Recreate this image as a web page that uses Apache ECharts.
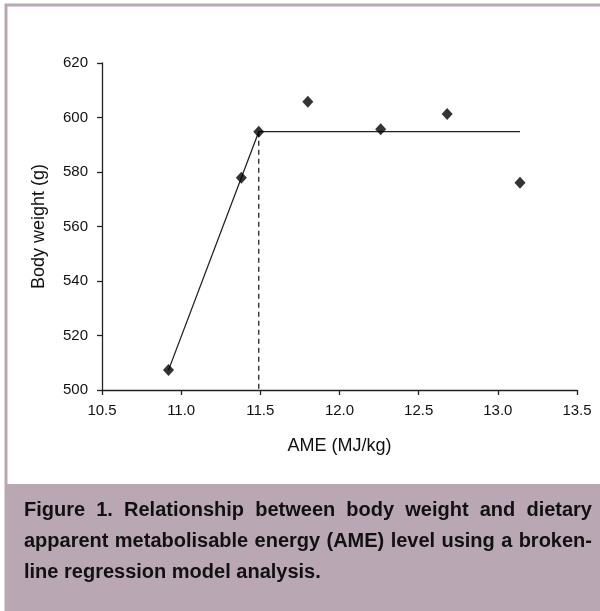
<!DOCTYPE html>
<html>
<head>
<meta charset="utf-8">
<script src="https://cdn.jsdelivr.net/npm/echarts@6/dist/echarts.min.js"></script>
<style>
  html, body { margin: 0; padding: 0; background: #ffffff; }
  #wrap { position: relative; width: 600px; height: 611px; overflow: hidden; }
  #chart { position: absolute; left: 0; top: 0; width: 600px; height: 611px; }
  #caption {
    position: absolute; left: 24px; top: 494px; width: 568px;
    font-family: "Liberation Sans", Arial, sans-serif; font-weight: bold;
    font-size: 20px; line-height: 31px; color: #111111;
    text-align: justify; text-align-last: left;
  }
</style>
</head>
<body>
<div id="wrap">
  <div id="chart"></div>
  <div id="caption">Figure 1. Relationship between body weight and dietary apparent metabolisable energy (AME) level using a broken-line regression model analysis.</div>
</div>
<script>
// Observed data points
const ameValues   = [10.92, 11.38, 11.49, 11.80, 12.26, 12.68, 13.14];
const bodyWeights = [507.3, 577.9, 594.8, 605.8, 595.7, 601.3, 576.1];

// Broken-line regression fit
const fitX = [10.92, 11.49, 13.14];
const fitY = [507.3, 594.8, 594.8];

// Breakpoint (dashed drop line)
const breakX = [11.49, 11.49];
const breakY = [594.8, 500];

// Axis settings
const xTicks = [10.5, 11.0, 11.5, 12.0, 12.5, 13.0, 13.5];
const yTicks = [500, 520, 540, 560, 580, 600, 620];

const xAxisTitle = 'AME (MJ/kg)';
const yAxisTitle = 'Body weight (g)';

const zip = (xs, ys) => xs.map((x, i) => [x, ys[i]]);

const chart = echarts.init(document.getElementById('chart'), null, { renderer: 'canvas' });
const mauve = '#b9a8b4';
const axisColor = '#222222';
const fontFam = '"Liberation Sans", Arial, sans-serif';

chart.setOption({
  backgroundColor: '#ffffff',
  animation: false,
  graphic: [
    { type: 'rect', z: -10, shape: { x: 6, y: 5, width: 620, height: 640 },
      style: { fill: null, stroke: mauve, lineWidth: 3 } },
    { type: 'rect', z: -10, shape: { x: 5, y: 484, width: 600, height: 130 },
      style: { fill: mauve } }
  ],
  grid: { left: 102, right: 23, top: 63, bottom: 221, containLabel: false },
  xAxis: {
    type: 'value',
    min: xTicks[0], max: xTicks[xTicks.length - 1], interval: 0.5,
    name: xAxisTitle, nameLocation: 'middle', nameGap: 47,
    nameTextStyle: { fontSize: 18, color: '#111', fontFamily: fontFam },
    axisLine: { show: true, onZero: false, lineStyle: { color: axisColor, width: 1.3 } },
    axisTick: { show: true, length: 5, lineStyle: { color: axisColor, width: 1.3 } },
    axisLabel: { fontSize: 15, color: '#111', fontFamily: fontFam, margin: 13,
                 formatter: v => v.toFixed(1) },
    splitLine: { show: false }
  },
  yAxis: {
    type: 'value',
    min: yTicks[0], max: yTicks[yTicks.length - 1], interval: 20,
    name: yAxisTitle, nameLocation: 'middle', nameGap: 54, nameRotate: 90,
    nameTextStyle: { fontSize: 18, color: '#111', fontFamily: fontFam },
    axisLine: { show: true, onZero: false, lineStyle: { color: axisColor, width: 1.3 } },
    axisTick: { show: true, length: 5, lineStyle: { color: axisColor, width: 1.3 } },
    axisLabel: { fontSize: 15, color: '#111', fontFamily: fontFam, margin: 14 },
    splitLine: { show: false }
  },
  series: [
    {
      type: 'line', data: zip(fitX, fitY), symbol: 'none', silent: true,
      lineStyle: { color: '#222', width: 1.3 }, z: 2
    },
    {
      type: 'line', data: zip(breakX, breakY), symbol: 'none', silent: true,
      lineStyle: { color: '#222', width: 1.3, type: [5, 4] }, z: 2
    },
    {
      type: 'scatter', data: zip(ameValues, bodyWeights), symbol: 'diamond',
      symbolSize: [11, 12], itemStyle: { color: '#000' }, z: 3
    }
  ]
});
</script>
</body>
</html>
